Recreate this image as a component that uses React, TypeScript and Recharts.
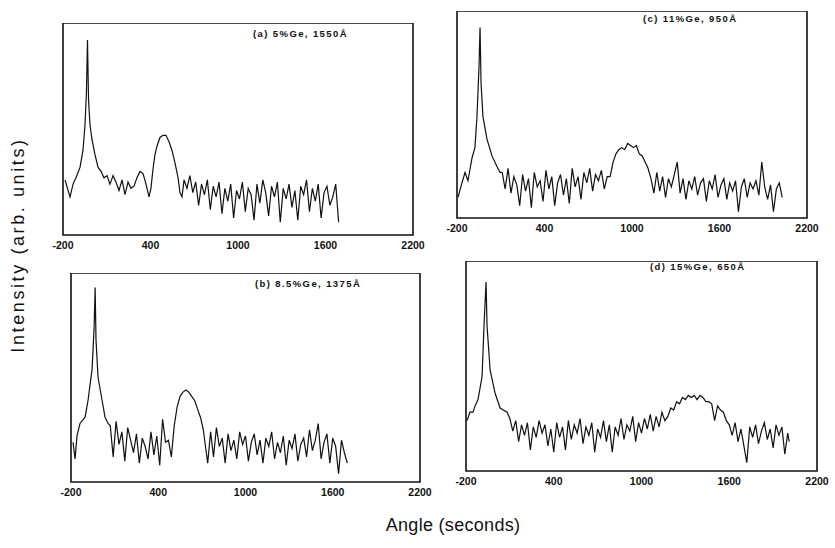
import React from 'react';
import { LineChart, Line, XAxis, YAxis, ReferenceArea } from 'recharts';

// rocking curves, angle in seconds vs intensity (arb. units, 0-100 of panel height)
const angleTicks = [-200, 400, 1000, 1600, 2200];

const scanA: [number, number][] = [
  [-186, 26], [-152, 18], [-131, 24], [-111, 27], [-83, 32], [-63, 40], [-49, 52], [-39, 68], [-32, 92],
  [-25, 64], [-15, 52], [-1, 45], [19, 38], [40, 32], [61, 30], [81, 27],
  [102, 28], [122, 24], [143, 28], [163, 25], [184, 21], [205, 26], [225, 19], [246, 25], [266, 22],
  [287, 23], [307, 27], [328, 30], [349, 29], [369, 24], [390, 18], [403, 22],
  [417, 31], [431, 38], [445, 42], [465, 46], [486, 47], [506, 47], [527, 44], [547, 40], [568, 34],
  [589, 27], [602, 20], [616, 18],
  [630, 26], [650, 22], [670, 28], [690, 20], [710, 25], [730, 14], [750, 24], [770, 19], [790, 26],
  [810, 12], [830, 23], [850, 18], [870, 25], [890, 10], [910, 22], [930, 16], [950, 24], [970, 8],
  [990, 21], [1010, 17], [1030, 25], [1050, 11], [1070, 22], [1090, 19], [1110, 7], [1130, 24],
  [1150, 15], [1170, 26], [1190, 20], [1210, 9], [1230, 23], [1250, 18], [1270, 25], [1290, 6],
  [1310, 22], [1330, 17], [1350, 24], [1370, 13], [1390, 21], [1410, 7], [1430, 23], [1450, 19],
  [1470, 26], [1490, 11], [1510, 22], [1530, 16], [1550, 24], [1570, 8], [1590, 20], [1610, 23],
  [1630, 14], [1650, 18], [1670, 24], [1690, 6],
];

const scanB: [number, number][] = [
  [-186, 19], [-172, 11], [-159, 22], [-138, 28], [-103, 31], [-83, 39], [-55, 54], [-41, 74], [-34, 93],
  [-28, 68], [-14, 50], [14, 39], [34, 31], [55, 28],
  [70, 27], [90, 12], [110, 29], [130, 18], [150, 24], [170, 10], [190, 26], [210, 20], [230, 14],
  [250, 23], [270, 9], [290, 21], [310, 17], [330, 11], [350, 24], [370, 13], [390, 22], [410, 8],
  [430, 30], [450, 19], [470, 20], [490, 12],
  [510, 27], [530, 36], [550, 41], [570, 43], [590, 44], [610, 43], [630, 41], [650, 39], [670, 35],
  [690, 31], [710, 25], [725, 17], [740, 9],
  [760, 24], [780, 12], [800, 26], [820, 17], [840, 21], [860, 9], [880, 23], [900, 15], [920, 20],
  [940, 11], [960, 24], [980, 18], [1000, 22], [1020, 10], [1040, 19], [1060, 23], [1080, 13],
  [1100, 20], [1120, 9], [1140, 21], [1160, 17], [1180, 24], [1200, 11], [1220, 19], [1240, 14],
  [1260, 22], [1280, 8], [1300, 20], [1320, 16], [1340, 23], [1360, 10], [1380, 18], [1400, 21],
  [1420, 12], [1440, 25], [1460, 15], [1480, 20], [1500, 28], [1520, 11], [1540, 19], [1560, 23],
  [1580, 9], [1600, 21], [1620, 17], [1640, 4], [1660, 20], [1680, 14], [1700, 9],
];

const scanC: [number, number][] = [
  [-193, 10], [-166, 17], [-145, 22], [-125, 18], [-97, 29], [-77, 34], [-63, 49], [-49, 73], [-42, 92],
  [-35, 65], [-22, 49], [6, 38], [40, 30], [73, 25], [95, 22],
  [110, 22], [130, 14], [150, 24], [170, 12], [190, 20], [210, 16], [230, 6], [250, 21], [270, 13],
  [290, 19], [310, 5], [330, 22], [350, 15], [370, 18], [390, 8], [410, 23], [430, 14], [450, 20],
  [470, 6], [490, 17], [510, 21], [530, 11], [550, 19], [570, 7], [590, 24], [610, 15], [630, 20],
  [650, 9], [670, 22], [690, 17], [710, 24], [730, 13], [750, 21], [770, 18], [790, 23], [810, 14],
  [830, 20],
  [850, 20], [870, 27], [890, 31], [910, 33], [930, 34], [950, 33], [970, 36], [990, 35], [1010, 34],
  [1030, 35], [1050, 31], [1070, 30], [1090, 27], [1110, 24], [1130, 19], [1150, 12],
  [1170, 22], [1190, 13], [1210, 20], [1230, 10], [1250, 19], [1270, 15], [1290, 21], [1310, 27],
  [1330, 12], [1350, 19], [1370, 9], [1390, 18], [1410, 14], [1430, 20], [1450, 11], [1470, 17],
  [1490, 19], [1510, 8], [1530, 18], [1550, 14], [1570, 21], [1590, 10], [1610, 16], [1630, 19],
  [1650, 9], [1670, 17], [1690, 13], [1710, 18], [1730, 3], [1750, 15], [1770, 19], [1790, 10],
  [1810, 17], [1830, 14], [1850, 18], [1870, 11], [1890, 27], [1910, 15], [1930, 9], [1950, 16],
  [1970, 3], [1990, 14], [2010, 17], [2030, 10],
];

const scanD: [number, number][] = [
  [-193, 24], [-173, 28], [-152, 28], [-138, 31], [-118, 34], [-90, 45], [-77, 69], [-63, 90],
  [-56, 69], [-35, 48], [-1, 37], [33, 30], [81, 28],
  [100, 25], [120, 19], [140, 24], [160, 14], [180, 22], [200, 17], [220, 23], [240, 10], [260, 21],
  [280, 16], [300, 24], [320, 18], [340, 22], [360, 12], [380, 20], [400, 9], [420, 23], [440, 16],
  [460, 21], [480, 10], [500, 24], [520, 15], [540, 22], [560, 18], [580, 25], [600, 13], [620, 21],
  [640, 17], [660, 23], [680, 9], [700, 20], [720, 16], [740, 24], [760, 14], [780, 22], [800, 9],
  [820, 21], [840, 17], [860, 25], [880, 15], [900, 22], [920, 19], [940, 26], [960, 14], [980, 23],
  [1000, 18], [1020, 25], [1040, 20], [1060, 27], [1080, 19], [1100, 26], [1120, 21], [1140, 28],
  [1160, 24],
  [1180, 26], [1200, 30], [1220, 29], [1240, 33], [1260, 32], [1280, 35], [1300, 34], [1320, 36],
  [1340, 35], [1360, 36], [1380, 34], [1400, 36], [1420, 35], [1440, 33], [1460, 33], [1480, 32],
  [1500, 24], [1520, 31], [1540, 29], [1560, 28], [1580, 24], [1600, 22],
  [1620, 17], [1640, 23], [1660, 14], [1680, 20], [1700, 12], [1720, 4], [1740, 21], [1760, 16],
  [1780, 22], [1800, 13], [1820, 19], [1840, 23], [1860, 15], [1880, 20], [1900, 11], [1920, 22],
  [1940, 17], [1960, 21], [1980, 8], [2000, 18], [2010, 14],
];

const titleA = '(a) 5%Ge, 1550Å';
const titleB = '(b) 8.5%Ge, 1375Å';
const titleC = '(c) 11%Ge, 950Å';
const titleD = '(d) 15%Ge, 650Å';

const PAD = 22;
const AXIS_H = 24;
const FONT = '"Liberation Sans", Arial, sans-serif';

interface PanelProps {
  scan: [number, number][];
  title: string;
  box: { left: number; right: number; top: number; bottom: number };
  titleAt: { x: number; y: number };
}

const Panel: React.FC<PanelProps> = ({ scan, title, box, titleAt }) => {
  const data = scan.map(([angle, intensity]) => ({ angle, intensity }));
  const w = box.right - box.left + PAD * 2;
  const h = box.bottom - box.top + AXIS_H;
  return (
    <>
      <div style={{ position: 'absolute', left: box.left - PAD, top: box.top }}>
        <LineChart width={w} height={h} data={data} margin={{ top: 0, right: PAD, bottom: 0, left: PAD }}>
          <XAxis
            type="number"
            dataKey="angle"
            domain={[-200, 2200]}
            ticks={angleTicks}
            axisLine={false}
            tickLine={false}
            tickSize={0}
            tickMargin={7}
            height={AXIS_H}
            interval={0}
            tick={{ fill: '#111', fontSize: 10.5, fontWeight: 700, fontFamily: FONT }}
          />
          <YAxis hide domain={[0, 100]} />
          <ReferenceArea x1={-200} x2={2200} y1={0} y2={100} fill="none" fillOpacity={0} stroke="#111" strokeWidth={1.6} />
          <Line type="linear" dataKey="intensity" stroke="#111" strokeWidth={1.2} dot={false} isAnimationActive={false} />
        </LineChart>
      </div>
      <div
        style={{
          position: 'absolute', left: titleAt.x, top: titleAt.y - 7, fontSize: 9.5, fontWeight: 700,
          letterSpacing: 1.4, whiteSpace: 'nowrap', color: '#111', fontFamily: FONT,
        }}
      >
        {title}
      </div>
    </>
  );
};

export default function App() {
  return (
    <div style={{ position: 'absolute', left: 0, top: 0, width: 835, height: 548, background: '#fff', overflow: 'hidden' }}>
      <Panel scan={scanA} title={titleA} box={{ left: 63, right: 413, top: 23, bottom: 235 }} titleAt={{ x: 253, y: 35 }} />
      <Panel scan={scanC} title={titleC} box={{ left: 457, right: 807, top: 11, bottom: 218 }} titleAt={{ x: 643, y: 20 }} />
      <Panel scan={scanB} title={titleB} box={{ left: 71, right: 420, top: 273, bottom: 482 }} titleAt={{ x: 255, y: 285 }} />
      <Panel scan={scanD} title={titleD} box={{ left: 466, right: 817, top: 261, bottom: 471 }} titleAt={{ x: 650, y: 268 }} />
      <div
        style={{
          position: 'absolute', left: 18, top: 245, transform: 'translate(-50%, -50%) rotate(-90deg)',
          fontSize: 18, letterSpacing: 2.6, whiteSpace: 'nowrap', color: '#111', fontFamily: FONT,
        }}
      >
        Intensity (arb. units)
      </div>
      <div
        style={{
          position: 'absolute', left: 453, top: 525, transform: 'translate(-50%, -50%)',
          fontSize: 18, letterSpacing: 0.3, whiteSpace: 'nowrap', color: '#111', fontFamily: FONT,
        }}
      >
        Angle (seconds)
      </div>
    </div>
  );
}
